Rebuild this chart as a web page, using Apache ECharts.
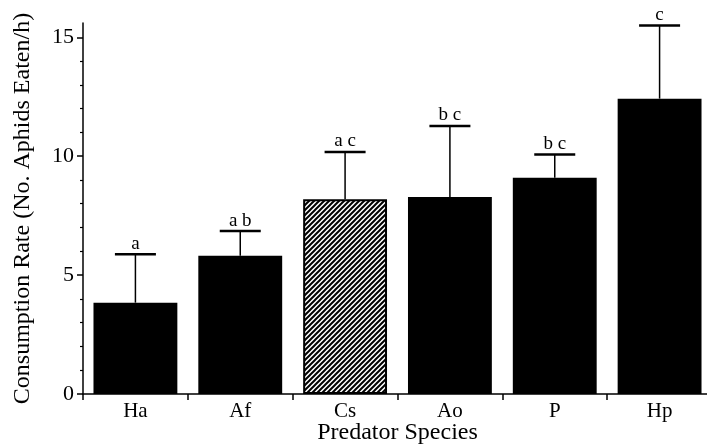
<!DOCTYPE html>
<html><head><meta charset="utf-8">
<script src="https://cdn.jsdelivr.net/npm/echarts@6/dist/echarts.min.js"></script>
<style>html,body{margin:0;padding:0;background:#fff}#c{width:707px;height:447px}</style>
</head><body><div id="c"></div>
<script>
const categories = ['Ha', 'Af', 'Cs', 'Ao', 'P', 'Hp'];
const meanRate = [3.84, 5.81, 8.19, 8.28, 9.09, 12.42];
const upperError = [5.88, 6.85, 10.18, 11.27, 10.07, 15.5];
const groupLetters = ['a', 'a b', 'a c', 'b c', 'b c', 'c'];
const yMajorTicks = [0, 5, 10, 15];
const yMinorTicks = [1, 2, 3, 4, 6, 7, 8, 9, 11, 12, 13, 14];
const hatchedIndex = 2;

function makeHatch() {
  const s = 5;
  const c = document.createElement('canvas');
  c.width = s; c.height = s;
  const g = c.getContext('2d');
  g.fillStyle = '#fff'; g.fillRect(0, 0, s, s);
  g.strokeStyle = '#000'; g.lineWidth = 2;
  g.beginPath();
  g.moveTo(0, s); g.lineTo(s, 0);
  g.moveTo(-s / 2, s / 2); g.lineTo(s / 2, -s / 2);
  g.moveTo(s / 2, s * 1.5); g.lineTo(s * 1.5, s / 2);
  g.stroke();
  return c;
}
const hatch = makeHatch();
const FONT = '"Liberation Serif", "Times New Roman", serif';

const chart = echarts.init(document.getElementById('c'), null, {renderer: 'canvas'});
chart.setOption({
  animation: false,
  backgroundColor: '#fff',
  grid: {left: 83, right: -5, top: 23, bottom: 53, containLabel: false, outerBoundsMode: 'none'},
  xAxis: {
    type: 'category', data: categories,
    axisLine: {lineStyle: {color: '#000', width: 1.5}},
    axisTick: {show: true, length: 6, alignWithLabel: false, interval: 0, lineStyle: {color: '#000', width: 1.5}},
    axisLabel: {color: '#000', fontFamily: FONT, fontSize: 21, margin: 7, interval: 0},
    name: 'Predator Species', nameLocation: 'middle', nameGap: 27, nameMoveOverlap: false,
    nameTextStyle: {color: '#000', fontFamily: FONT, fontSize: 24},
    splitLine: {show: false}
  },
  yAxis: [{
    type: 'value', min: 0, max: 15.6, interval: 5, position: 'left',
    axisLine: {show: true, lineStyle: {color: '#000', width: 1.5}},
    axisTick: {show: true, length: 6, customValues: yMajorTicks, lineStyle: {color: '#000', width: 1.5}},
    axisLabel: {color: '#000', fontFamily: FONT, fontSize: 22, margin: 9, customValues: yMajorTicks},
    splitLine: {show: false},
    name: 'Consumption Rate (No. Aphids Eaten/h)', nameLocation: 'middle', nameGap: 48, nameMoveOverlap: false,
    nameTextStyle: {color: '#000', fontFamily: FONT, fontSize: 24}
  }, {
    type: 'value', min: 0, max: 15.6, interval: 5, position: 'left', offset: 0,
    axisLine: {show: false},
    axisTick: {show: true, length: 3, customValues: yMinorTicks, lineStyle: {color: '#000', width: 1.2}},
    axisLabel: {show: false},
    splitLine: {show: false}
  }],
  series: [{
    type: 'bar', barCategoryGap: '20%',
    data: meanRate.map((v, i) => i === hatchedIndex
      ? {value: v, itemStyle: {color: {image: hatch, repeat: 'repeat'}, borderColor: '#000', borderWidth: 2}}
      : {value: v, itemStyle: {color: '#000'}}),
    itemStyle: {color: '#000'}
  }, {
    type: 'custom',
    data: categories.map((c, i) => [i, meanRate[i], upperError[i]]),
    encode: {x: 0, y: [1, 2]},
    z: 5,
    renderItem: function (params, api) {
      const i = api.value(0);
      const base = api.coord([i, api.value(1)]);
      const top = api.coord([i, api.value(2)]);
      const half = 20.5;
      return {
        type: 'group',
        children: [
          {type: 'line', shape: {x1: top[0], y1: base[1], x2: top[0], y2: top[1]}, style: {stroke: '#000', lineWidth: 1.5}},
          {type: 'line', shape: {x1: top[0] - half, y1: top[1], x2: top[0] + half, y2: top[1]}, style: {stroke: '#000', lineWidth: 2.5}},
          {type: 'text', x: top[0], y: top[1] - 1, style: {text: groupLetters[i], fill: '#000', font: '19px ' + FONT, align: 'center', verticalAlign: 'bottom'}}
        ]
      };
    }
  }]
});
</script></body></html>
